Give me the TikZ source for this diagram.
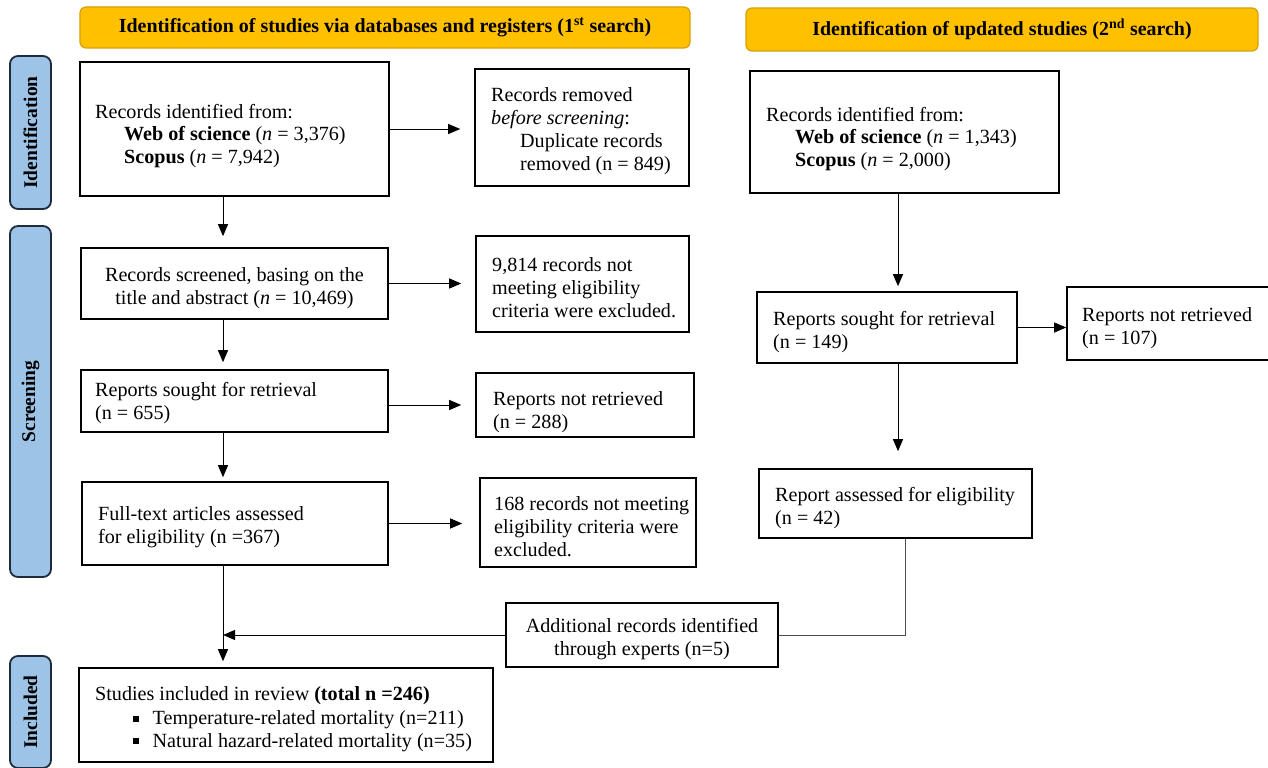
\documentclass[tikz,border=0pt]{standalone}
\usepackage{fontspec}
\setmainfont{Liberation Serif}
\usetikzlibrary{arrows.meta,calc}
\definecolor{gold}{HTML}{FFC000}
\definecolor{goldline}{HTML}{D4A106}
\definecolor{sideblue}{HTML}{9DC3E6}
\definecolor{sideline}{HTML}{1F2A3C}
\tikzset{
 box/.style={draw=black, line width=1.6bp, inner sep=0pt},
 txt/.style={inner sep=0pt, font=\fontsize{20.2}{23}\selectfont},
 banner/.style={draw=goldline, fill=gold, line width=1.2bp, rounded corners=6bp, inner sep=0pt, font=\bfseries\fontsize{20}{22}\selectfont},
 side/.style={draw=sideline, fill=sideblue, line width=1.8bp, rounded corners=8bp, inner sep=0pt, rotate=90, font=\bfseries\fontsize{19.5}{22}\selectfont},
 arr/.style={-{Triangle[length=12bp,width=10bp]}, line width=1bp},
 link/.style={line width=1bp, draw=black!70},
}
% name, x1, y1, x2, y2, left pad, dy, text
\newcommand\lbox[8]{%
 \pgfmathsetmacro\bcx{(#2+#4)/2}\pgfmathsetmacro\bcy{(#3+#5)/2}%
 \pgfmathsetmacro\bw{#4-#2}\pgfmathsetmacro\bh{#5-#3}%
 \pgfmathsetmacro\tx{#2+#6}\pgfmathsetmacro\ty{\bcy+#7}%
 \node[box, minimum width=\bw bp, minimum height=\bh bp] (#1) at (\bcx,\bcy) {};
 \node[txt, align=left, anchor=west] (#1t) at (\tx,\ty) {#8};}
% name, x1, y1, x2, y2, dy, text
\newcommand\cbox[7]{%
 \pgfmathsetmacro\bcx{(#2+#4)/2}\pgfmathsetmacro\bcy{(#3+#5)/2}%
 \pgfmathsetmacro\bw{#4-#2}\pgfmathsetmacro\bh{#5-#3}%
 \pgfmathsetmacro\ty{\bcy+#6}%
 \node[box, minimum width=\bw bp, minimum height=\bh bp] (#1) at (\bcx,\bcy) {};
 \node[txt, align=center] (#1t) at (\bcx,\ty) {#7};}
\newcommand\sidebox[6]{%
 \pgfmathsetmacro\bcx{(#2+#4)/2}\pgfmathsetmacro\bcy{(#3+#5)/2}%
 \pgfmathsetmacro\bw{#4-#2}\pgfmathsetmacro\bh{#5-#3}%
 \node[side, minimum width=\bh bp, minimum height=\bw bp] (#1) at (\bcx,\bcy) {#6};}
\newcommand\gbox[6]{%
 \pgfmathsetmacro\bcx{(#2+#4)/2}\pgfmathsetmacro\bcy{(#3+#5)/2}%
 \pgfmathsetmacro\bw{#4-#2}\pgfmathsetmacro\bh{#5-#3}%
 \node[banner, minimum width=\bw bp, minimum height=\bh bp] (#1) at (\bcx,\bcy) {#6};}
\newcommand\ind{\hspace*{29bp}}
\newcommand\bul{\hspace*{38bp}\rule[3bp]{5.5bp}{6bp}\hspace*{14bp}}
\begin{document}
\begin{tikzpicture}[x=1bp,y=-1bp]
\useasboundingbox (0,0) rectangle (1268,768);
% banners
\gbox{ban1}{80}{7}{690}{48}{Identification of studies via databases and registers (1\textsuperscript{st} search)}
\gbox{ban2}{746}{8}{1258}{51}{Identification of updated studies (2\textsuperscript{nd} search)}
% side labels
\sidebox{sid1}{10}{56}{51}{209}{Identification}
\sidebox{sid2}{10}{226}{51}{577}{Screening}
\sidebox{sid3}{10}{656}{51}{768}{Included}
% left column
\lbox{A}{80}{62}{389}{196}{15}{7}{Records identified from:\\\ind\textbf{Web of science} (\textit{n} = 3,376)\\\ind\textbf{Scopus} (\textit{n} = 7,942)}
\lbox{B}{475}{69}{689}{186}{16}{3.5}{Records removed\\\textit{before screening}:\\\ind Duplicate records\\\ind removed (n = 849)}
\cbox{C}{81}{248}{388}{319}{5}{Records screened, basing on the\\title and abstract (\textit{n} = 10,469)}
\lbox{D}{476}{236}{689}{332}{16}{3.5}{9,814 records not\\meeting eligibility\\criteria were excluded.}
\lbox{E}{81}{370}{388}{432}{14}{2}{Reports sought for retrieval\\(n = 655)}
\lbox{F}{476}{373}{694}{437}{17}{7}{Reports not retrieved\\(n = 288)}
\lbox{G}{82}{482}{388}{565}{16}{3.5}{Full-text articles assessed\\for eligibility (n =367)}
\lbox{H}{480}{478}{696}{567}{14}{4.5}{168 records not meeting\\eligibility criteria were\\excluded.}
\lbox{I}{79}{668}{493}{762}{16}{4}{Studies included in review \textbf{(total n =246)}\\[1.5bp]\bul Temperature-related mortality (n=211)\\\bul Natural hazard-related mortality (n=35)}
\cbox{J}{506}{603}{778}{667}{4}{Additional records identified\\through experts (n=5)}
% right column
\lbox{K}{750}{71}{1059}{193}{16}{7}{Records identified from:\\\ind\textbf{Web of science} (\textit{n} = 1,343)\\\ind\textbf{Scopus} (\textit{n} = 2,000)}
\lbox{L}{757}{292}{1017}{363}{16}{4.5}{Reports sought for retrieval\\(n = 149)}
\lbox{M}{1067}{287}{1272}{360}{15}{4.5}{Reports not retrieved\\(n = 107)}
\lbox{N}{759}{469}{1032}{538}{16}{4.5}{Report assessed for eligibility\\(n = 42)}
% column coordinates
\coordinate (colL) at (223,0);
\coordinate (colR) at (898,0);
\coordinate (colN) at (905,0);
% left arrows
\draw[arr, shorten >=14bp] (A.east) -- (A.east -| B.west);
\draw[arr, shorten >=11bp] (A.south -| colL) -- (C.north -| colL);
\draw[arr, shorten >=14bp] (C.east) -- (C.east -| D.west);
\draw[arr, shorten >=7bp] (C.south -| colL) -- (E.north -| colL);
\draw[arr, shorten >=14bp] (F.west -| E.east) -- (F.west);
\draw[arr, shorten >=4bp] (E.south -| colL) -- (G.north -| colL);
\draw[arr, shorten >=17bp] (G.east) -- (G.east -| H.west);
\draw[arr, shorten >=6bp] (G.south -| colL) -- (I.north -| colL);
\draw[arr] (J.west) -- (J.west -| colL);
% right arrows
\draw[arr, shorten >=5bp] (K.south -| colR) -- (L.north -| colR);
\draw[arr] (L.east) -- (L.east -| M.west);
\draw[arr, shorten >=17bp] (L.south -| colR) -- (N.north -| colR);
\draw[link] (N.south -| colN) |- (J.east);
\end{tikzpicture}
\end{document}
